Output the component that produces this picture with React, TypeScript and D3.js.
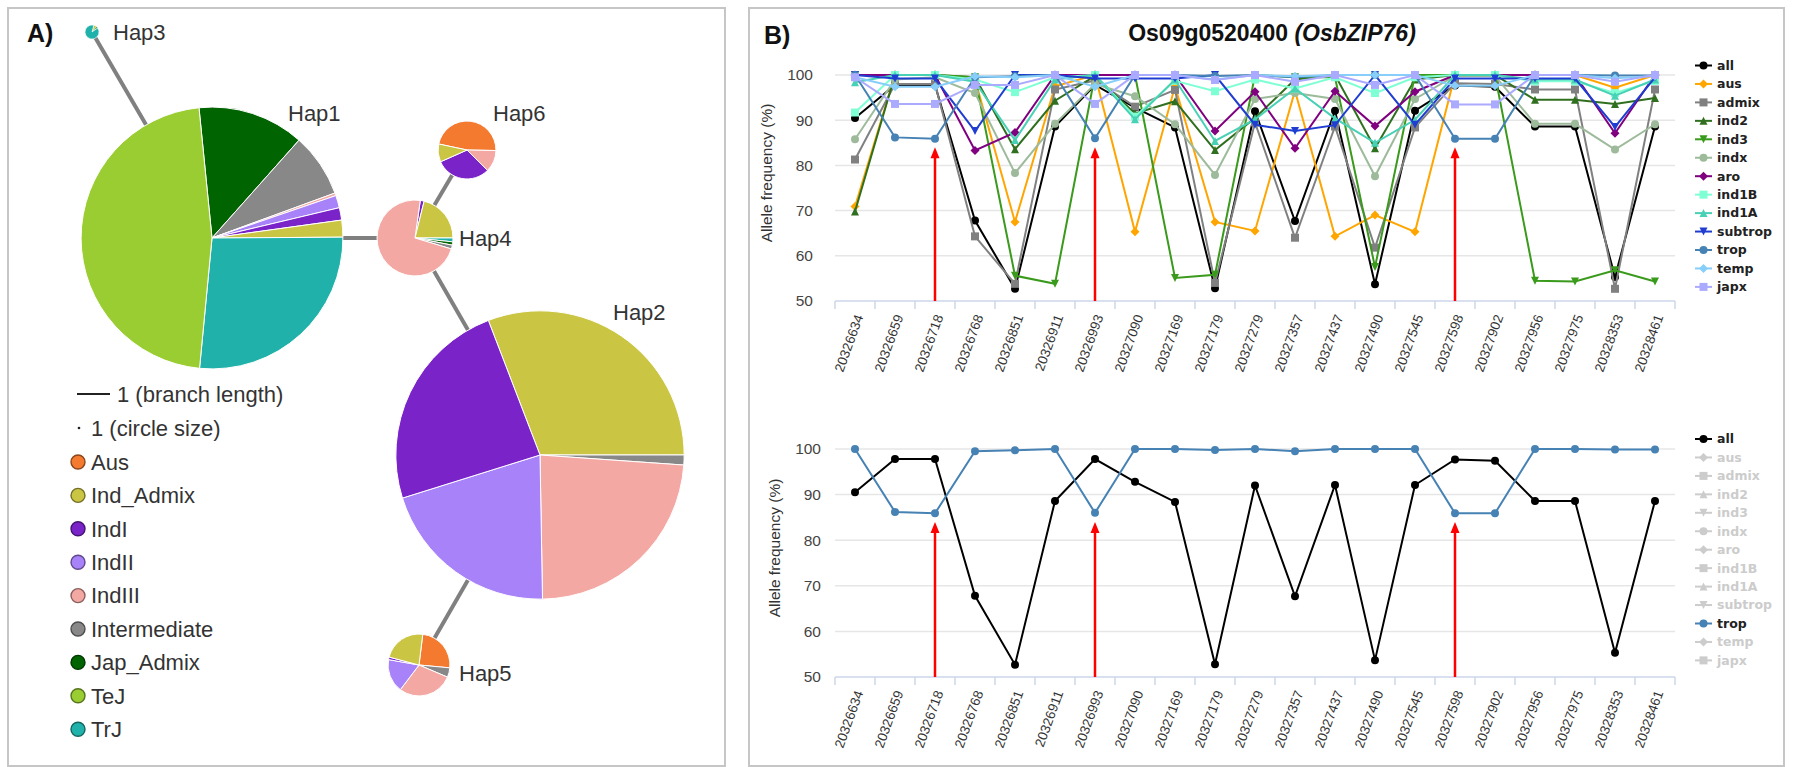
import React from 'react';
import * as d3 from 'd3';

// ---------- panel B data ----------
const positions = [
  '20326634', '20326659', '20326718', '20326768', '20326851', '20326911', '20326993',
  '20327090', '20327169', '20327179', '20327279', '20327357', '20327437', '20327490',
  '20327545', '20327598', '20327902', '20327956', '20327975', '20328353', '20328461',
];

const seriesNames = ['all', 'aus', 'admix', 'ind2', 'ind3', 'indx', 'aro', 'ind1B', 'ind1A', 'subtrop', 'trop', 'temp', 'japx'];
const seriesColors = ['#000000', '#ffa500', '#808080', '#2f6f1f', '#3a9a1c', '#9dbb9b', '#800080', '#7fffd4', '#48d1b5', '#1f3ed1', '#4682b4', '#87cefa', '#aaaaff'];
const seriesSymbols = ['circle', 'diamond', 'square', 'triangle', 'triangle-down', 'circle', 'diamond', 'square', 'triangle', 'triangle-down', 'circle', 'diamond', 'square'];

const allFreq = [90.5, 97.8, 97.8, 67.8, 52.7, 88.6, 97.8, 92.8, 88.4, 52.8, 92.0, 67.7, 92.1, 53.7, 92.1, 97.7, 97.4, 88.6, 88.6, 55.3, 88.6];
const ausFreq = [70.9, 100, 100, 99.0, 67.5, 97.5, 100, 65.3, 97.5, 67.5, 65.5, 96.5, 64.3, 69.0, 65.3, 100, 100, 100, 100, 97.2, 100];
const admixFreq = [81.3, 98.0, 98.0, 64.3, 53.8, 96.8, 98.8, 93.0, 96.7, 54.0, 89.5, 64.0, 88.6, 61.8, 88.4, 98.2, 98.0, 96.8, 96.8, 52.7, 96.8];
const ind2Freq = [69.8, 100, 100, 99.5, 83.6, 94.3, 99.8, 91.5, 94.2, 83.4, 90.5, 99.0, 100, 83.8, 99.0, 100, 100, 94.5, 94.5, 93.6, 94.9];
const ind3Freq = [100, 100, 100, 99.5, 55.6, 53.8, 100, 100, 55.1, 55.8, 100, 99.5, 99.5, 57.5, 100, 100, 100, 54.5, 54.3, 56.8, 54.3];
const indxFreq = [85.8, 99.0, 99.5, 96.0, 78.3, 89.2, 98.0, 95.3, 89.1, 77.9, 94.7, 96.0, 94.7, 77.6, 94.7, 99.8, 99.8, 89.2, 89.2, 83.5, 89.1];
const aroFreq = [100, 100, 100, 83.3, 87.3, 100, 100, 100, 100, 87.6, 96.3, 83.8, 96.4, 88.7, 96.3, 100, 100, 100, 100, 87.1, 100];
const ind1BFreq = [91.7, 100, 100, 99.0, 96.2, 99.5, 100, 90.8, 98.7, 96.4, 99.0, 97.0, 99.5, 96.0, 99.5, 100, 100, 98.6, 98.6, 96.0, 98.7];
const ind1AFreq = [98.4, 100, 100, 98.5, 85.6, 99.0, 100, 90.2, 99.0, 85.4, 90.2, 97.0, 90.4, 85.0, 90.1, 100, 100, 99.0, 99.0, 95.4, 99.0];
const subtropFreq = [100, 99.2, 99.2, 87.6, 100, 100, 99.2, 99.2, 99.2, 100, 89.0, 87.6, 88.9, 100, 89.0, 99.2, 99.2, 99.2, 99.2, 88.5, 99.5];
const tropFreq = [100, 86.2, 85.9, 99.5, 99.7, 100, 86.0, 100, 100, 99.8, 100, 99.5, 100, 100, 100, 85.9, 85.9, 100, 100, 99.9, 99.9];
const tempFreq = [99.5, 97.4, 97.4, 99.7, 99.5, 100, 97.4, 100, 100, 99.0, 100, 99.7, 100, 100, 100, 97.6, 97.6, 100, 100, 99.3, 99.8];
const japxFreq = [99.5, 93.6, 93.6, 97.8, 97.8, 100, 93.6, 100, 100, 98.9, 100, 98.5, 100, 97.8, 100, 93.5, 93.5, 100, 100, 98.5, 100];

const seriesValues = [allFreq, ausFreq, admixFreq, ind2Freq, ind3Freq, indxFreq, aroFreq, ind1BFreq, ind1AFreq, subtropFreq, tropFreq, tempFreq, japxFreq];

const yTicks = [50, 60, 70, 80, 90, 100];
const arrowPositions = ['20326718', '20326993', '20327598'];
const arrowTip = 84;
const bottomActive = ['all', 'trop'];

// ---------- panel A data ----------
const groupNames = ['Aus', 'Ind_Admix', 'IndI', 'IndII', 'IndIII', 'Intermediate', 'Jap_Admix', 'TeJ', 'TrJ'];
const groupColors = ['#f47a30', '#cbc544', '#7a23c9', '#a882f8', '#f4a8a3', '#888888', '#006400', '#9acd32', '#20b2aa'];

// slices listed clockwise
const hap1Slices: [string, number][] = [['Jap_Admix', 1237], ['Intermediate', 738], ['IndIII', 31], ['IndII', 144], ['IndI', 144], ['Ind_Admix', 196], ['TrJ', 2503], ['TeJ', 4410]];
const hap2Slices: [string, number][] = [['Ind_Admix', 3515], ['Intermediate', 127], ['IndIII', 2692], ['IndII', 2331], ['IndI', 2736]];
const hap3Slices: [string, number][] = [['Ind_Admix', 2], ['Jap_Admix', 1], ['TrJ', 24]];
const hap4Slices: [string, number][] = [['IndI', 13], ['Ind_Admix', 167], ['TrJ', 13], ['Jap_Admix', 11], ['Intermediate', 13], ['IndIII', 574]];
const hap5Slices: [string, number][] = [['Aus', 129], ['Intermediate', 26], ['IndIII', 152], ['IndII', 92], ['IndI', 7], ['Ind_Admix', 120]];
const hap6Slices: [string, number][] = [['Aus', 216], ['IndIII', 56], ['IndI', 142], ['Ind_Admix', 46]];

const hapEdges = [['Hap1', 'Hap3'], ['Hap1', 'Hap4'], ['Hap4', 'Hap6'], ['Hap4', 'Hap2'], ['Hap2', 'Hap5']];

// network layout
const hapLayout: Record<string, { x: number; y: number; start: number; lx: number; ly: number; slices: [string, number][] }> = {
  Hap1: { x: 212, y: 238, start: -5.7, lx: 288, ly: 113, slices: hap1Slices },
  Hap2: { x: 540, y: 455, start: -21, lx: 613, ly: 312, slices: hap2Slices },
  Hap3: { x: 92, y: 32, start: 15, lx: 113, ly: 32, slices: hap3Slices },
  Hap4: { x: 415, y: 238, start: 8, lx: 459, ly: 238, slices: hap4Slices },
  Hap5: { x: 419, y: 665, start: 7, lx: 459, ly: 673, slices: hap5Slices },
  Hap6: { x: 467, y: 150, start: 282, lx: 493, ly: 113, slices: hap6Slices },
};

const groupColor = d3.scaleOrdinal<string, string>().domain(groupNames).range(groupColors);
const radius = d3.scaleSqrt().domain([0, 1]).range([0, 1.35]);

function markerPath(type: string, r = 4) {
  switch (type) {
    case 'circle':
      return d3.symbol(d3.symbolCircle, Math.PI * r * r)() as string;
    case 'square':
      return `M${-r},${-r}h${2 * r}v${2 * r}h${-2 * r}Z`;
    case 'diamond':
      return `M0,${-r - 0.5}L${r + 0.5},0L0,${r + 0.5}L${-r - 0.5},0Z`;
    case 'triangle':
      return `M0,${-r}L${r},${r}L${-r},${r}Z`;
    default:
      return `M${-r},${-r}L${r},${-r}L0,${r}Z`;
  }
}

function PanelA() {
  const font = "'Liberation Sans', Arial, sans-serif";
  return (
    <g fontFamily={font}>
      <rect x={8} y={8} width={717} height={758} fill="none" stroke="#c6c6c6" strokeWidth={2} />
      <text x={27} y={42} fontSize={25} fontWeight="bold" fill="#111">A)</text>
      {hapEdges.map(([a, b]) => (
        <line key={a + b} x1={hapLayout[a].x} y1={hapLayout[a].y} x2={hapLayout[b].x} y2={hapLayout[b].y}
          stroke="#808080" strokeWidth={4} />
      ))}
      {Object.entries(hapLayout).map(([name, h]) => {
        const total = d3.sum(h.slices, (d) => d[1]);
        const r = radius(total);
        const s = (h.start * Math.PI) / 180;
        const arcs = d3.pie<[string, number]>().sort(null).value((d) => d[1]).startAngle(s).endAngle(s + 2 * Math.PI)(h.slices);
        const arc = d3.arc<d3.PieArcDatum<[string, number]>>().innerRadius(0).outerRadius(r);
        return (
          <g key={name}>
            <g transform={`translate(${h.x},${h.y})`}>
              {arcs.map((a, i) => (
                <path key={i} d={arc(a) as string} fill={groupColor(a.data[0])} stroke="#fff" strokeWidth={r > 20 ? 1 : 0.6} />
              ))}
            </g>
            <text x={h.lx} y={h.ly} dy="0.35em" fontSize={22} fill="#333">{name}</text>
          </g>
        );
      })}
      {/* legend */}
      <line x1={77} x2={110} y1={394} y2={394} stroke="#222" strokeWidth={2} />
      <text x={117} y={394} dy="0.35em" fontSize={22} fill="#333">1 (branch length)</text>
      <circle cx={79} cy={428} r={radius(1)} fill="#222" />
      <text x={91} y={428} dy="0.35em" fontSize={22} fill="#333">1 (circle size)</text>
      {groupNames.map((g, i) => (
        <g key={g} transform={`translate(0,${462 + i * 33.4})`}>
          <circle cx={78} cy={0} r={7} fill={groupColor(g)} stroke={d3.color(groupColor(g))!.darker(1.6).formatHex()} strokeWidth={1.4} />
          <text x={91} y={0} dy="0.35em" fontSize={22} fill="#333">{g}</text>
        </g>
      ))}
    </g>
  );
}

function AlleleChart({ yBottom, yTop, labelX, titleX, legendY, active }: { yBottom: number; yTop: number; labelX: number; titleX: number; legendY: number; active: string[] }) {
  const x = d3.scaleBand().domain(positions).range([835, 1675]);
  const cx = (p: string) => (x(p) as number) + x.bandwidth() / 2;
  const y = d3.scaleLinear().domain([50, 100]).range([yBottom, yTop]);
  const line = d3.line<number>().x((_, i) => cx(positions[i])).y((v) => y(v));
  const axisFont = "'Liberation Sans', Arial, sans-serif";
  const legendFont = "'DejaVu Sans', Verdana, sans-serif";
  return (
    <g>
      {yTicks.filter((t) => t > 50).map((t) => (
        <line key={t} x1={835} x2={1675} y1={y(t)} y2={y(t)} stroke="#e6e6e6" strokeWidth={1.5} />
      ))}
      {yTicks.map((t) => (
        <text key={t} x={labelX} y={y(t)} dy="0.35em" textAnchor="end" fontSize={15.5} fill="#444" fontFamily={axisFont}>{t}</text>
      ))}
      <text transform={`translate(${titleX},${(yBottom + yTop) / 2 - 15}) rotate(-90)`} textAnchor="middle" dy="0.35em"
        fontSize={15.5} fill="#333" fontFamily={axisFont}>Allele frequency (%)</text>
      <line x1={835} x2={1675} y1={yBottom} y2={yBottom} stroke="#ccd6eb" strokeWidth={1.5} />
      {[...positions.map((p) => x(p) as number), 1675].map((t, i) => (
        <line key={i} x1={t} x2={t} y1={yBottom} y2={yBottom + 8} stroke="#ccd6eb" strokeWidth={1.5} />
      ))}
      {positions.map((p) => (
        <text key={p} transform={`translate(${cx(p) + 4},${yBottom + 14}) rotate(-70)`} textAnchor="end" dy="0.35em"
          fontSize={13.5} fill="#333" fontFamily={axisFont}>{p}</text>
      ))}
      {seriesNames.map((s, si) => {
        if (!active.includes(s)) return null;
        const c = seriesColors[si];
        const vals = seriesValues[si];
        return (
          <g key={s}>
            <path d={line(vals) as string} fill="none" stroke={c} strokeWidth={2} />
            {vals.map((v, i) => (
              <path key={i} transform={`translate(${cx(positions[i])},${y(v)})`} d={markerPath(seriesSymbols[si])} fill={c} />
            ))}
          </g>
        );
      })}
      {arrowPositions.map((p) => {
        const ax = cx(p);
        const tip = y(arrowTip);
        return (
          <g key={p}>
            <line x1={ax} x2={ax} y1={yBottom} y2={tip + 8} stroke="#ff0000" strokeWidth={2.5} />
            <path d={`M${ax},${tip}L${ax - 4.5},${tip + 11}L${ax + 4.5},${tip + 11}Z`} fill="#ff0000" />
          </g>
        );
      })}
      {seriesNames.map((s, si) => {
        const on = active.includes(s);
        const c = on ? seriesColors[si] : '#cccccc';
        const ly = legendY + si * 18.45;
        return (
          <g key={s}>
            <line x1={1695} x2={1712} y1={ly} y2={ly} stroke={c} strokeWidth={2} />
            <path transform={`translate(1703.5,${ly})`} d={markerPath(seriesSymbols[si])} fill={c} />
            <text x={1717} y={ly} dy="0.35em" fontSize={12.5} fontWeight="bold" fontFamily={legendFont} fill={on ? '#222' : '#cccccc'}>{s}</text>
          </g>
        );
      })}
    </g>
  );
}

function PanelB() {
  const font = "'Liberation Sans', Arial, sans-serif";
  return (
    <g fontFamily={font}>
      <rect x={749} y={8} width={1035} height={758} fill="none" stroke="#c6c6c6" strokeWidth={2} />
      <text x={764} y={44} fontSize={25} fontWeight="bold" fill="#111">B)</text>
      <text x={1272} y={41} textAnchor="middle" fontSize={23} fontWeight="bold" fill="#111">
        Os09g0520400 <tspan fontStyle="italic">(OsbZIP76)</tspan>
      </text>
      <AlleleChart yBottom={301} yTop={75} labelX={813} titleX={767} legendY={65.5} active={seriesNames} />
      <AlleleChart yBottom={677} yTop={449} labelX={821} titleX={775} legendY={439} active={bottomActive} />
    </g>
  );
}

export default function App() {
  return (
    <svg width={1794} height={767} style={{ position: 'absolute', left: 0, top: 0, background: '#fff' }}>
      <rect width={1794} height={767} fill="#fff" />
      <PanelA />
      <PanelB />
    </svg>
  );
}
